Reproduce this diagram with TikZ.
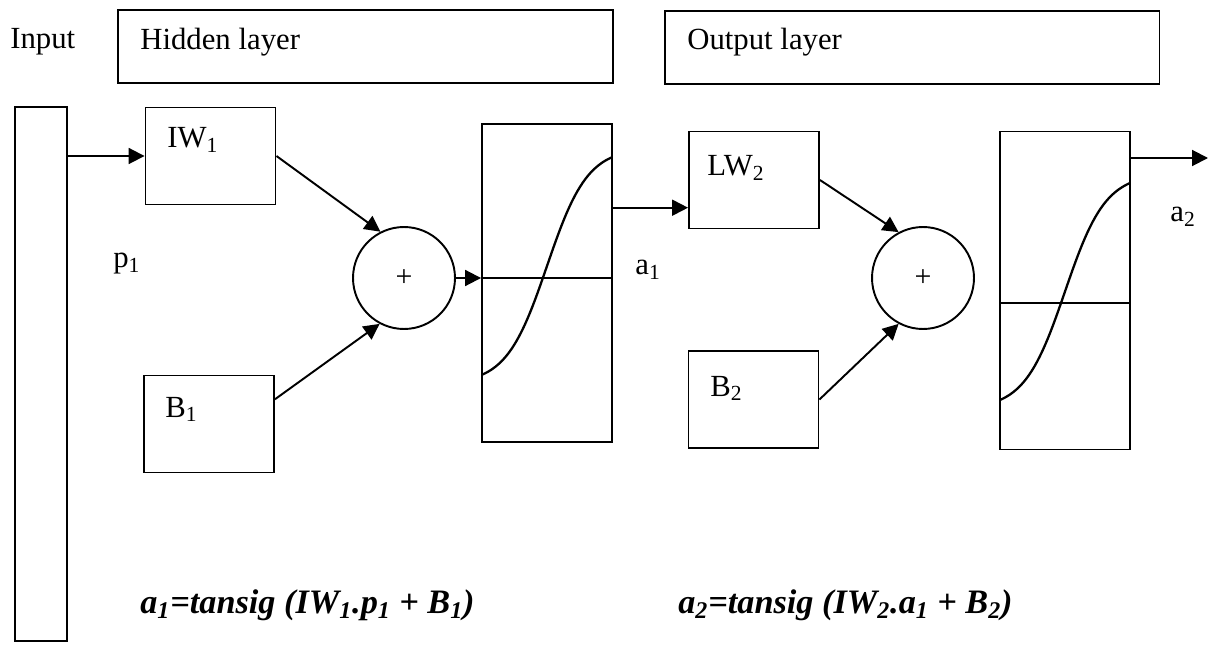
\documentclass[tikz,border=0pt]{standalone}
\usepackage{fontspec}
\setmainfont{Liberation Serif}
\usetikzlibrary{
	arrows.meta,
	positioning,
	calc
}
\tikzset{
  % arrow
	cstra/.style      ={-{Triangle[length=9pt,width=9pt]}, line width=1.1pt}, % right arrow
  % curve
	cstcurve/.style   ={line width=1.3pt}, %sigmoid
	cstzero/.style    ={line width=0.8pt}, %zero line
  % node
	cstnode/.style    ={draw=black, line width=1.1pt, inner sep=0pt},
	cstbox/.style     ={cstnode, minimum width=2.6cm, minimum height=1.94cm},
	cstsig/.style     ={cstnode, minimum width=2.6cm, minimum height=6.36cm},
	csthead/.style    ={cstnode, minimum width=9.9cm, minimum height=1.46cm},
	cstsum/.style     ={cstnode, circle, minimum size=2.04cm, font=\fontsize{17}{20}\selectfont},
  % text
	csttext/.style    ={anchor=base west, inner sep=0pt, font=\fontsize{17.5}{20}\selectfont},
	cstform/.style    ={anchor=base west, inner sep=0pt, font=\fontsize{19.5}{22}\selectfont\bfseries\itshape}
}
\begin{document}
\begin{tikzpicture}[x=0.02cm, y=-0.02cm]
	\useasboundingbox (0,0) rectangle (1210,645);
	% headers
	\node[csthead] (hidden) at (365.5,46.5) {};
	\node[csthead] (output) at (912,47.5) {};
	\node[csttext] (inputlbl) at (10,49) {Input};
	\node[csttext] (hiddenlbl) at (140,50) {Hidden layer};
	\node[csttext] (outputlbl) at (687,50) {Output layer};
	% input
	\node[cstnode, minimum width=1.04cm, minimum height=10.68cm] (input) at (41,374) {};
	\node[csttext] (p1) at (113,268) {p\textsubscript{1}};
	% hidden layer
	\node[cstbox] (IW1) at (210.5,156) {};
	\node[cstbox] (B1) at (209,424) {};
	\node[csttext] (IW1lbl) at (167,148) {IW\textsubscript{1}};
	\node[csttext] (B1lbl) at (165,417) {B\textsubscript{1}};
	\node[cstsum] (sum1) at (404,278) {+};
	\node[cstsig] (sig1) at (547,283) {};
	\draw[cstzero] (sig1.west |- sum1.east) -- (sig1.east |- sum1.east);
	\draw[cstcurve] plot[domain=-1:1, samples=50] ({547+65*\x}, {266-118*tanh(1.6*\x)});
	\node[csttext] (a1) at (635,275) {a\textsubscript{1}};
	% output layer
	\node[cstbox] (LW2) at (754,180) {};
	\node[cstbox] (B2) at (753.5,399.5) {};
	\node[csttext] (LW2lbl) at (707,176) {LW\textsubscript{2}};
	\node[csttext] (B2lbl) at (710,396) {B\textsubscript{2}};
	\node[cstsum] (sum2) at (923,278) {+};
	\node[cstsig] (sig2) at (1065,290.5) {};
	\draw[cstzero] ($(sig2.west)+(0,12.5)$) -- ($(sig2.east)+(0,12.5)$);
	\draw[cstcurve] plot[domain=-1:1, samples=50] ({1065+65*\x}, {291.5-117.7*tanh(1.6*\x)});
	\node[csttext] (a2) at (1170,222) {a\textsubscript{2}};
	% arrows
	\coordinate (a1in) at ($(LW2.north west)!0.78!(LW2.south west)$);
	\coordinate (a2end) at (1208,158);
	\draw[cstra] (input.east |- IW1.west) -- (IW1.west);
	\draw[cstra] (IW1.east) -- (sum1.117);
	\draw[cstra] ($(B1.north east)!0.25!(B1.south east)$) -- (sum1.242);
	\draw[cstra] (sum1.east) -- (sum1.east -| sig1.west);
	\draw[cstra] (a1in -| sig1.east) -- (a1in);
	\draw[cstra] (LW2.east) -- (sum2.118);
	\draw[cstra] (B2.east) -- (sum2.242);
	\draw[cstra] (a2end -| sig2.east) -- (a2end);
	% formulas
	\node[cstform] (f1) at (140,613) {a\textsubscript{1}=tansig (IW\textsubscript{1}.p\textsubscript{1} + B\textsubscript{1})};
	\node[cstform] (f2) at (678,613) {a\textsubscript{2}=tansig (IW\textsubscript{2}.a\textsubscript{1} + B\textsubscript{2})};
\end{tikzpicture}
\end{document}
